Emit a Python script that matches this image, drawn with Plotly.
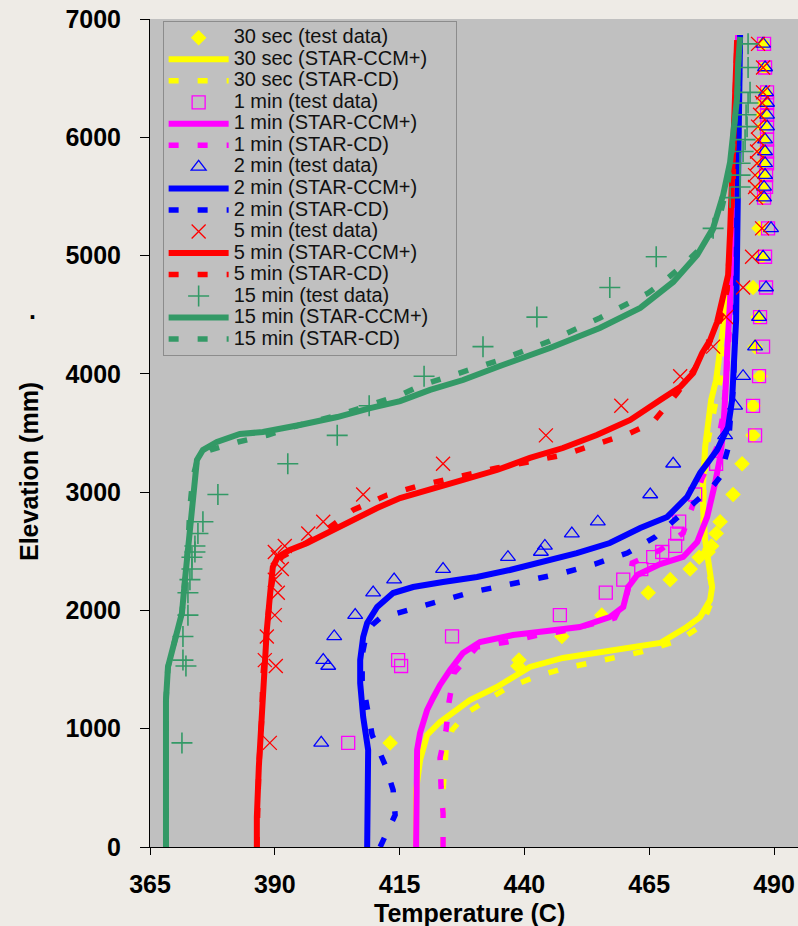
import plotly.graph_objects as go

# ---------------- data ----------------
test_elev = [6790, 6590, 6380, 6290, 6190, 6090, 5980, 5880, 5780, 5680, 5580, 5490,
             5230, 4990, 4730, 4480, 4230, 3980, 3730, 3480, 3240, 2980, 2750, 2650,
             2545, 2494, 2450, 2350, 2260, 2150, 1960, 1780, 1580, 1530, 880]

t30_test = [487.8, 488.0, 488.2, 488.0, 487.8, 487.8, 487.8, 487.8, 487.8, 487.8, 487.6, 487.6,
            487.0, 487.6, 485.8, 486.8, 486.2, 487.2, 485.8, 485.8, 483.6, 481.8, 479.2, 478.4,
            477.5, 476.8, 475.0, 473.2, 469.2, 464.8, 455.5, 447.5, 438.9, 438.7, 413.1]
t1_test = [488.0, 488.2, 488.6, 488.6, 488.6, 488.6, 488.6, 488.6, 488.6, 488.4, 488.4, 488.0,
           488.8, 488.2, 488.4, 487.2, 487.8, 487.0, 485.8, 486.2, 478.4, 474.2, 471.0, 470.6,
           470.2, 467.6, 465.8, 463.4, 459.8, 456.3, 447.1, 425.5, 414.7, 415.3, 404.7]
t2_test = [487.8, 488.2, 488.4, 488.6, 488.6, 488.6, 488.2, 488.2, 488.2, 488.2, 488.0, 488.0,
           489.4, 487.8, 488.4, 487.0, 486.2, 483.8, 482.2, 480.2, 469.8, 465.2, 454.7, 449.5,
           444.1, 443.3, 436.7, 423.7, 413.9, 409.7, 406.1, 401.9, 399.7, 400.7, 399.3]
t5_test = [486.8, 487.8, 487.8, 487.6, 487.2, 486.8, 486.8, 486.6, 486.6, 486.2, 486.2, 486.4,
           487.6, 485.6, 483.8, 480.4, 477.8, 471.2, 459.4, 444.3, 423.7, 407.7, 399.7, 396.7,
           392.0, 390.0, 390.6, 391.4, 390.0, 390.6, 390.0, 388.4, 388.0, 390.2, 389.0]
t15_test = [484.8, 484.8, 485.2, 484.8, 484.4, 484.6, 484.2, 483.8, 483.2, 483.2, 483.2, 481.2,
            477.8, 466.4, 457.1, 442.5, 431.7, 419.9, 408.9, 402.5, 392.6, 378.6, 375.6, 374.6,
            374.0, 374.0, 373.4, 373.4, 373.0, 372.6, 372.6, 371.6, 371.6, 372.2, 371.4]

# 30 sec simulations
ccm30_T = [418.3, 418.3, 419.1, 420.5, 423.1, 429.1, 434.5, 441.1, 447.7, 454.5, 461.2, 467.2,
           472.2, 475.2, 477.2, 477.6, 476.8, 476.2, 475.8, 475.8, 476.2, 476.8, 477.4, 478.4,
           479.6, 480.8, 481.8, 482.6, 483.2]
ccm30_E = [0, 482, 735, 947, 1057, 1243, 1353, 1522, 1598, 1640, 1682, 1725,
           1851, 1944, 2088, 2198, 2426, 2595, 2849, 3077, 3382, 3610, 3779, 3948,
           4286, 4709, 5470, 6315, 6865]
cd30_T = [423.7, 423.7, 424.3, 425.5, 428.7, 433.1, 436.5, 442.1, 448.1, 454.1, 463.2, 471.2,
          475.6, 477.2, 477.6, 476.4, 475.8, 476.0, 476.8, 478.0, 479.2, 480.4, 481.4, 482.2,
          482.8, 483.2]
cd30_E = [0, 482, 820, 989, 1141, 1260, 1344, 1437, 1513, 1564, 1648, 1750,
          1877, 2046, 2190, 2426, 2764, 3103, 3441, 3694, 3948, 4286, 4709, 5470,
          6315, 6865]

# 1 min simulations
ccm1_T = [418.3, 418.3, 418.5, 419.1, 420.5, 421.7, 423.1, 425.1, 427.7, 431.1, 437.7, 444.5,
          451.1, 457.1, 459.8, 460.8, 462.6, 467.2, 471.8, 474.6, 476.6, 478.2, 479.2, 479.8,
          480.2, 480.4, 480.6, 481.2, 481.8, 482.4, 482.8]
ccm1_E = [0, 541, 820, 964, 1158, 1260, 1370, 1496, 1640, 1733, 1792, 1826,
          1860, 1944, 2029, 2198, 2300, 2392, 2452, 2578, 2790, 3077, 3297, 3500,
          3720, 3948, 4176, 4624, 5470, 6315, 6865]
cd1_T = [423.7, 423.7, 423.3, 423.1, 424.3, 424.9, 425.9, 428.1, 430.5, 436.5, 442.7, 449.1,
         458.1, 460.6, 461.6, 467.2, 471.8, 475.6, 478.6, 479.6, 480.2, 480.8, 481.4, 482.0,
         482.6, 483.0]
cd1_E = [0, 287, 507, 752, 989, 1226, 1471, 1581, 1691, 1733, 1792, 1835,
         1936, 2147, 2401, 2511, 2655, 3120, 3382, 3610, 3838, 4202, 4624, 5470,
         6315, 6865]

# 2 min simulations
ccm2_T = [408.5, 408.7, 408.7, 407.7, 407.1, 407.1, 407.3, 407.7, 408.5, 410.5, 413.7, 417.7,
          423.7, 430.5, 437.1, 443.7, 450.5, 457.1, 463.2, 468.6, 472.6, 475.2, 478.6, 480.8,
          481.6, 482.0, 482.4, 482.6, 482.8, 483.2]
ccm2_E = [0, 397, 820, 1099, 1386, 1581, 1691, 1775, 1894, 2029, 2147, 2198,
          2240, 2283, 2342, 2409, 2485, 2570, 2697, 2790, 2959, 3162, 3356, 3551,
          3779, 4117, 4455, 5047, 5892, 6865]
cd2_T = [411.1, 414.1, 413.7, 412.1, 409.5, 408.3, 407.5, 407.5, 408.3, 409.5, 411.1, 417.5,
         423.5, 429.5, 435.5, 441.7, 447.7, 454.1, 460.6, 466.2, 471.8, 477.6, 479.2, 480.8,
         481.2, 481.8, 482.2, 482.6, 482.8, 483.2]
cd2_E = [0, 271, 482, 693, 947, 1200, 1412, 1623, 1792, 1877, 1936, 2012,
         2080, 2156, 2207, 2257, 2316, 2392, 2485, 2621, 2824, 3043, 3128, 3373,
         3593, 3864, 4286, 5047, 5892, 6865]

# 5 min simulations
ccm5_T = [386.4, 386.4, 386.8, 387.4, 387.6, 388.4, 389.0, 389.6, 390.6, 393.0, 396.5, 400.5,
          405.1, 410.5, 415.1, 421.1, 427.7, 434.5, 441.1, 447.7, 454.5, 461.2, 464.6, 467.2,
          471.2, 473.8, 475.6, 477.2, 478.6, 479.8, 480.8, 481.2, 481.6, 481.8, 482.2, 482.6]
ccm5_E = [0, 254, 676, 1099, 1437, 1835, 2114, 2367, 2452, 2511, 2570, 2655,
          2748, 2866, 2950, 3018, 3103, 3187, 3289, 3373, 3483, 3610, 3711, 3779,
          3889, 4007, 4176, 4286, 4438, 4641, 4836, 5199, 5622, 6045, 6467, 6822]
cd5_T = [386.4, 386.8, 387.4, 387.6, 388.4, 389.0, 390.0, 391.4, 395.0, 399.7, 405.7, 412.5,
         418.7, 428.1, 434.5, 440.7, 447.7, 455.1, 461.2, 465.6, 470.6, 474.2, 476.8, 479.2,
         480.6, 481.2, 481.8, 482.2, 482.6]
cd5_E = [0, 676, 1099, 1437, 1835, 2114, 2367, 2452, 2536, 2663, 2849, 2976,
         3052, 3145, 3204, 3255, 3314, 3415, 3500, 3585, 3838, 4049, 4244, 4455,
         4709, 5132, 5622, 6315, 6822]

# 15 min simulations
ccm15_T = [368.2, 368.2, 368.2, 368.6, 369.4, 370.0, 371.4, 372.0, 372.6, 373.4, 373.8, 374.4,
           375.6, 378.4, 383.0, 387.6, 395.0, 402.5, 409.1, 415.1, 421.1, 427.7, 435.1, 445.1,
           455.1, 463.2, 469.8, 474.6, 477.8, 479.8, 481.2, 481.8, 482.6, 482.8, 483.2]
ccm15_E = [0, 735, 1243, 1522, 1665, 1750, 1978, 2257, 2536, 2824, 3103, 3272,
           3356, 3424, 3492, 3508, 3568, 3635, 3711, 3770, 3864, 3948, 4066, 4219,
           4388, 4557, 4777, 5005, 5233, 5512, 5791, 6019, 6332, 6611, 6848]
cd15_T = [368.2, 368.2, 368.6, 370.0, 371.4, 372.0, 372.6, 373.0, 373.6, 374.6, 377.0, 382.6,
          388.6, 395.0, 402.7, 409.1, 415.1, 419.5, 427.1, 435.1, 445.1, 455.1, 464.8, 467.8,
          471.8, 476.6, 479.2, 480.8, 481.8, 482.8, 483.0]
cd15_E = [0, 1243, 1522, 1750, 1978, 2257, 2536, 2874, 3128, 3289, 3356, 3424,
          3483, 3568, 3652, 3737, 3821, 3906, 4007, 4117, 4278, 4472, 4684, 4777,
          4920, 5115, 5343, 5622, 5960, 6467, 6822]

x_ticks = [365, 390, 415, 440, 465, 490]
y_ticks = [0, 1000, 2000, 3000, 4000, 5000, 6000, 7000]

# ---------------- styling ----------------
YEL, MAG, BLU, RED, GRN = "#FFFF00", "#FF00FF", "#0000FF", "#FF0000", "#339966"
LW_SOLID = 6
LW_DASH = 5.5
DASH = "10px,19px"
PAPER = "#EEEBE6"


def nm(s):
    return '<span style="font-size:20px">' + s + '\u00a0' * 4 + '</span>'


fig = go.Figure()

groups = [
    ("30 sec", YEL, t30_test, dict(symbol="diamond", size=12, color=YEL, line=dict(width=0)),
     ccm30_T, ccm30_E, cd30_T, cd30_E),
    ("1 min", MAG, t1_test, dict(symbol="square-open", size=13, color=MAG, line=dict(width=1.3, color=MAG)),
     ccm1_T, ccm1_E, cd1_T, cd1_E),
    ("2 min", BLU, t2_test, dict(symbol="triangle-up-open", size=13, color=BLU, line=dict(width=1.3, color=BLU)),
     ccm2_T, ccm2_E, cd2_T, cd2_E),
    ("5 min", RED, t5_test, dict(symbol="x-thin-open", size=14, color=RED, line=dict(width=1.3, color=RED)),
     ccm5_T, ccm5_E, cd5_T, cd5_E),
    ("15 min", GRN, t15_test, dict(symbol="cross-thin-open", size=15, color=GRN, line=dict(width=1.6, color=GRN)),
     ccm15_T, ccm15_E, cd15_T, cd15_E),
]

for label, col, tt, mk, cT, cE, dT, dE in groups:
    fig.add_trace(go.Scatter(x=tt, y=test_elev, mode="markers", marker=mk,
                             name=nm(label + " (test data)")))
    fig.add_trace(go.Scatter(x=cT, y=cE, mode="lines", line=dict(color=col, width=LW_SOLID),
                             name=nm(label + " (STAR-CCM+)")))
    fig.add_trace(go.Scatter(x=dT, y=dE, mode="lines", line=dict(color=col, width=LW_DASH, dash=DASH),
                             name=nm(label + " (STAR-CD)")))

tickfont = dict(family="Liberation Sans", size=25, color="black", weight="bold")

fig.update_layout(
    width=798, height=926,
    margin=dict(l=150, r=0, t=19, b=79),
    paper_bgcolor=PAPER,
    plot_bgcolor="#C0C0C0",
    showlegend=True,
    legend=dict(
        x=0.0195, y=0.9976, xanchor="left", yanchor="top",
        bgcolor="#C0C0C0", bordercolor="#8C8C8C", borderwidth=1,
        font=dict(family="Liberation Sans", size=14.25, color="#111111"),
        itemwidth=60, tracegroupgap=0,
    ),
    xaxis=dict(
        range=[365, 494.8], tickmode="array", tickvals=x_ticks,
        showline=True, linecolor="black", linewidth=1,
        ticks="outside", ticklen=7, tickcolor="black", tickwidth=1,
        showgrid=False, zeroline=False, tickfont=tickfont,
        ticklabelstandoff=8,
    ),
    yaxis=dict(
        range=[0, 7000], tickmode="array", tickvals=y_ticks,
        showline=True, linecolor="black", linewidth=1,
        ticks="outside", ticklen=9, tickcolor="black", tickwidth=1,
        showgrid=False, zeroline=False, tickfont=tickfont,
        ticklabelstandoff=14,
    ),
    annotations=[
        dict(text="Temperature (C)", xref="paper", yref="paper", x=0.4923, y=-0.0795,
             showarrow=False, xanchor="center", yanchor="middle",
             font=dict(family="Liberation Sans", size=25, color="black", weight="bold")),
        dict(text="Elevation (mm)", xref="paper", yref="paper", x=-0.1867, y=0.4529,
             showarrow=False, xanchor="center", yanchor="middle", textangle=-90,
             font=dict(family="Liberation Sans", size=25, color="black", weight="bold")),
        dict(text=".", xref="paper", yref="paper", x=-0.182, y=0.649,
             showarrow=False, xanchor="center", yanchor="middle",
             font=dict(family="Liberation Sans", size=25, color="black", weight="bold")),
    ],
)

fig.write_html(
    "out.html",
    config={"displayModeBar": False},
    post_script="document.body.style.margin='0';document.body.style.background='" + PAPER + "';",
)
